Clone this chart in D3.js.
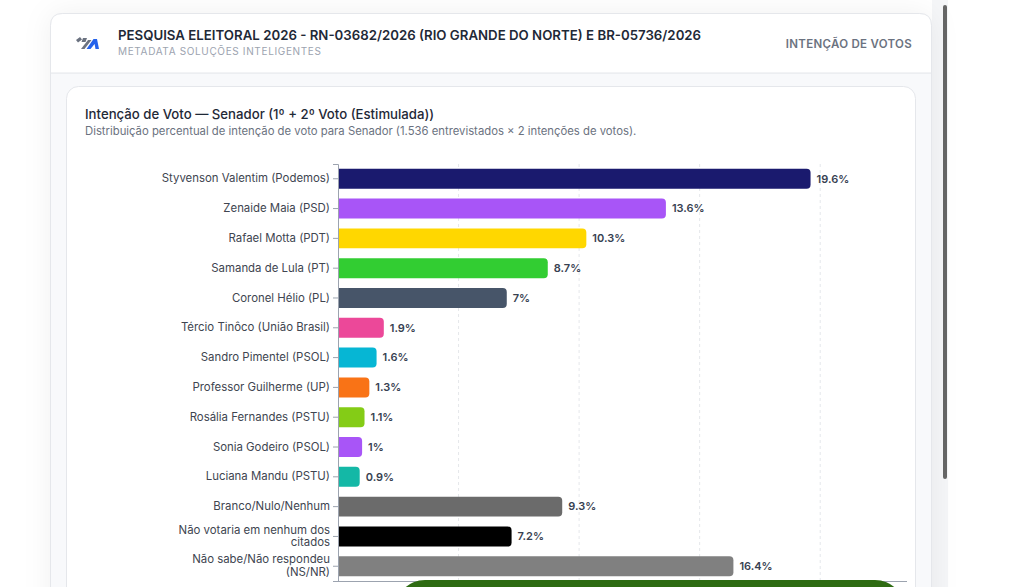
<!DOCTYPE html>
<html>
<head>
<meta charset="utf-8">
<script src="https://cdn.jsdelivr.net/npm/d3@7"></script>
<style>
  html, body { margin: 0; padding: 0; background: #ffffff; overflow: hidden; }
  svg { display: block; font-family: Inter, "Noto Sans", sans-serif; }
</style>
</head>
<body>
<svg id="chart" width="1024" height="587"></svg>
<script>
// dados
const candidates = [
  "Styvenson Valentim (Podemos)",
  "Zenaide Maia (PSD)",
  "Rafael Motta (PDT)",
  "Samanda de Lula (PT)",
  "Coronel Hélio (PL)",
  "Tércio Tinôco (União Brasil)",
  "Sandro Pimentel (PSOL)",
  "Professor Guilherme (UP)",
  "Rosália Fernandes (PSTU)",
  "Sonia Godeiro (PSOL)",
  "Luciana Mandu (PSTU)",
  "Branco/Nulo/Nenhum",
  "Não votaria em nenhum dos citados",
  "Não sabe/Não respondeu (NS/NR)"
];
const percents = [19.6, 13.6, 10.3, 8.7, 7, 1.9, 1.6, 1.3, 1.1, 1, 0.9, 9.3, 7.2, 16.4];
const barColors = ["#1a1a6e", "#a855f7", "#ffd700", "#32cd32", "#475569", "#ec4899", "#06b6d4",
                   "#f97316", "#84cc16", "#a855f7", "#14b8a6", "#6b6b6b", "#000000", "#808080"];
const gridTicks = [5, 10, 15, 20];

let svg = d3.select("#chart");

// sombra do cartão
let defs = svg.append("defs");
let shadow = defs.append("filter").attr("id", "shadow")
  .attr("x", "-10%").attr("y", "-10%").attr("width", "120%").attr("height", "120%");
shadow.append("feDropShadow").attr("dx", 0).attr("dy", 0)
  .attr("stdDeviation", 14).attr("flood-color", "#000").attr("flood-opacity", 0.06);

// área de rolagem à direita
svg.append("rect").attr("x", 932).attr("y", 0).attr("width", 16).attr("height", 587).attr("fill", "#f5f6f8");
svg.append("rect").attr("x", 943).attr("y", 5).attr("width", 4).attr("height", 474)
  .attr("rx", 2).attr("fill", "#666666");

// cartão externo
svg.append("rect").attr("x", 50.5).attr("y", 13.5).attr("width", 881).attr("height", 620)
  .attr("rx", 12).attr("fill", "#f8f9fb").attr("stroke", "#e5e7eb").attr("filter", "url(#shadow)");
// cabeçalho
svg.append("path")
  .attr("d", "M50.5,73 L50.5,25.5 Q50.5,13.5 62.5,13.5 L919.5,13.5 Q931.5,13.5 931.5,25.5 L931.5,73 Z")
  .attr("fill", "#ffffff").attr("stroke", "#e5e7eb");
svg.append("line").attr("x1", 51).attr("x2", 931).attr("y1", 73.5).attr("y2", 73.5).attr("stroke", "#eceef1");

// logo
let logo = svg.append("g").attr("transform", "translate(76,37)");
logo.append("path").attr("d", "M0,3 L4,0 L6,2.5 L2,5.5 Z M7,1 L11,1 L9.5,5 L5.5,5 Z").attr("fill", "#6b7280");
logo.append("path").attr("d", "M5,12 L12,3 L15.5,3 L8.5,12 Z").attr("fill", "#6b7280");
logo.append("path").attr("d", "M10.5,12 L17.5,2 L21,2 L23,12 L19.5,12 L18.6,7 L14.5,12 Z").attr("fill", "#2563eb");

svg.append("text").attr("x", 118).attr("y", 40)
  .attr("font-size", 13.25).attr("font-weight", 600).attr("fill", "#1f2937")
  .text("PESQUISA ELEITORAL 2026 - RN-03682/2026 (RIO GRANDE DO NORTE) E BR-05736/2026");
svg.append("text").attr("x", 118).attr("y", 55)
  .attr("font-size", 10).attr("letter-spacing", "0.65px").attr("fill", "#9ca3af")
  .text("METADATA SOLUÇÕES INTELIGENTES");
svg.append("text").attr("x", 912).attr("y", 48).attr("text-anchor", "end")
  .attr("font-size", 11.5).attr("font-weight", 600).attr("letter-spacing", "0.3px").attr("fill", "#6b7280")
  .text("INTENÇÃO DE VOTOS");

// cartão interno
svg.append("rect").attr("x", 66.5).attr("y", 86.5).attr("width", 849).attr("height", 560)
  .attr("rx", 12).attr("fill", "#ffffff").attr("stroke", "#e5e7eb");

svg.append("text").attr("x", 85).attr("y", 119)
  .attr("font-size", 13.2).attr("font-weight", 500).attr("fill", "#1f2937")
  .text("Intenção de Voto — Senador (1º + 2º Voto (Estimulada))");
svg.append("text").attr("x", 85).attr("y", 135)
  .attr("font-size", 11.3).attr("fill", "#6b7280")
  .text("Distribuição percentual de intenção de voto para Senador (1.536 entrevistados × 2 intenções de votos).");

// escalas
let margin = { top: 164, left: 338, right: 907, bottom: 581 };
let xScale = d3.scaleLinear().domain([0, 23.6]).range([margin.left, margin.right]);
let yScale = d3.scaleBand().domain(candidates).range([margin.top, margin.bottom])
  .paddingInner(0.33).paddingOuter(0.16);

let plot = svg.append("g").attr("id", "plot");

// linhas de grade
plot.selectAll("line.grid").data(gridTicks).enter().append("line")
  .attr("class", "grid")
  .attr("x1", d => xScale(d)).attr("x2", d => xScale(d))
  .attr("y1", margin.top).attr("y2", margin.bottom)
  .attr("stroke", "#e5e7eb").attr("stroke-dasharray", "3 3");

// barras com cantos arredondados à direita
function barPath(x0, x1, y, h, r) {
  let rr = Math.min(r, (x1 - x0) / 2, h / 2);
  return "M" + x0 + "," + y +
    " L" + (x1 - rr) + "," + y +
    " Q" + x1 + "," + y + " " + x1 + "," + (y + rr) +
    " L" + x1 + "," + (y + h - rr) +
    " Q" + x1 + "," + (y + h) + " " + (x1 - rr) + "," + (y + h) +
    " L" + x0 + "," + (y + h) + " Z";
}

plot.selectAll("path.bar").data(candidates).enter().append("path")
  .attr("class", "bar")
  .attr("d", (d, i) => barPath(xScale(0), xScale(percents[i]), yScale(d), yScale.bandwidth(), 4))
  .attr("fill", (d, i) => barColors[i]);

plot.selectAll("text.value").data(candidates).enter().append("text")
  .attr("class", "value")
  .attr("x", (d, i) => xScale(percents[i]) + 6)
  .attr("y", d => yScale(d) + yScale.bandwidth() / 2)
  .attr("dy", "0.35em")
  .attr("font-size", 11).attr("font-weight", 600).attr("fill", "#374151")
  .text((d, i) => percents[i] + "%");

// eixo y
let yAxis = d3.axisLeft(yScale).tickSize(5).tickPadding(3);
let yGroup = plot.append("g").attr("transform", "translate(" + margin.left + ",0)").call(yAxis);
yGroup.select(".domain").attr("stroke", "#9ca3af");
yGroup.selectAll(".tick line").attr("stroke", "#9ca3af");
yGroup.selectAll(".tick text")
  .attr("font-family", "Inter, 'Noto Sans', sans-serif")
  .attr("font-size", 11.4).attr("fill", "#404550")
  .each(function(d) {
    let t = d3.select(this);
    let cut = d.indexOf("(NS/NR)") > 0 ? d.indexOf("(NS/NR)") : d.indexOf("citados");
    if (cut > 0) {
      let a = d.slice(0, cut).trim(), b = d.slice(cut).trim();
      t.text(null);
      t.append("tspan").attr("x", -8).attr("dy", "-0.25em").text(a);
      t.append("tspan").attr("x", -8).attr("dy", "1.1em").text(b);
    }
  });

// eixo x (linha base)
plot.append("line").attr("x1", margin.left).attr("x2", margin.right)
  .attr("y1", margin.bottom + 0.5).attr("y2", margin.bottom + 0.5).attr("stroke", "#9ca3af");

// botão flutuante verde
svg.append("rect").attr("x", 395).attr("y", 580).attr("width", 510).attr("height", 60)
  .attr("rx", 30).attr("fill", "#2e6b12");
</script>
</body>
</html>
